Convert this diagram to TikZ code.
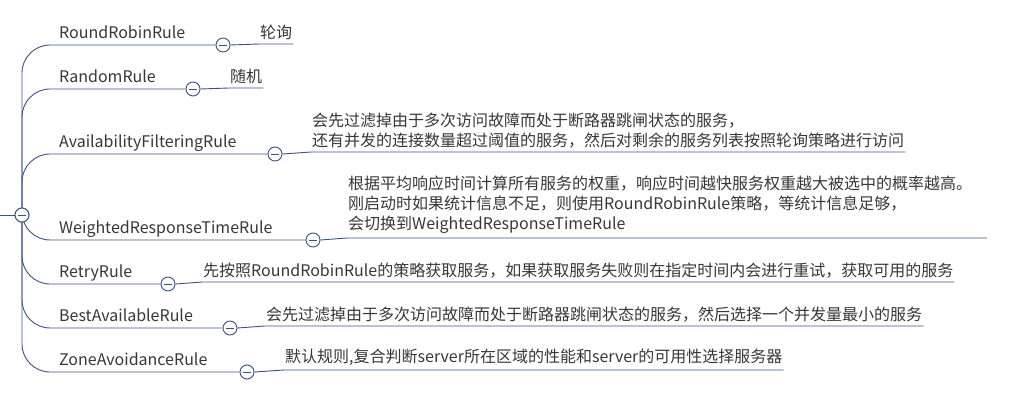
\documentclass[tikz,border=0pt]{standalone}
\usepackage{fontspec}
\setmainfont{Noto Sans CJK SC}
\usetikzlibrary{positioning}
\definecolor{branchblue}{RGB}{62,82,125}
\definecolor{labelgray}{RGB}{55,55,55}

\begin{document}
\begin{tikzpicture}[x=1pt,y=-1pt,
              every node/.style={text=labelgray, font=\fontsize{16}{20}\selectfont},
              fold/.style={circle, draw=branchblue, fill=white, minimum size=14pt, inner sep=0pt, line width=0.9pt,
                path picture={\draw[branchblue, line width=0.9pt]
                  ([xshift=-4pt]path picture bounding box.center) -- ([xshift=4pt]path picture bounding box.center);}},
              rule/.style={anchor=base west, inner sep=0pt},
              note/.style={anchor=south west, align=left, inner xsep=1pt, inner ysep=4pt},
              branch/.style={draw=branchblue, line width=0.9pt, rounded corners=28pt},
              twig/.style={draw=branchblue, line width=0.9pt}
            ]
              \useasboundingbox (0,0) rectangle (1029,406);

              % root
              \coordinate (lead) at (0,215);
              \node[fold] (root) at (22,215) {};

              % rules
              \node[rule] (rr) at (59,39) {RoundRobinRule};
              \node[fold] (rrf) at (223,45) {};
              \node[note] (rrn) at (259,44) {轮询};

              \node[rule] (rd) at (59,83) {RandomRule};
              \node[fold] (rdf) at (193,89) {};
              \node[note] (rdn) at (229,88) {随机};

              \node[rule] (af) at (59,148) {AvailabilityFilteringRule};
              \node[fold] (aff) at (275,154) {};
              \node[note] (afn) at (311,152) {会先过滤掉由于多次访问故障而处于断路器跳闸状态的服务，\\还有并发的连接数量超过阈值的服务，然后对剩余的服务列表按照轮询策略进行访问};

              \node[rule] (wr) at (59,234) {WeightedResponseTimeRule};
              \node[fold] (wrf) at (313,240) {};
              \node[note] (wrn) at (347,238) {根据平均响应时间计算所有服务的权重，响应时间越快服务权重越大被选中的概率越高。\\刚启动时如果统计信息不足，则使用RoundRobinRule策略，等统计信息足够，\\会切换到WeightedResponseTimeRule};
              \coordinate (wre) at (987,238);

              \node[rule] (rt) at (59,278) {RetryRule};
              \node[fold] (rtf) at (168,284) {};
              \node[note] (rtn) at (202,282) {先按照RoundRobinRule的策略获取服务，如果获取服务失败则在指定时间内会进行重试，获取可用的服务};

              \node[rule] (ba) at (59,322) {BestAvailableRule};
              \node[fold] (baf) at (230,328) {};
              \node[note] (ban) at (265,326) {会先过滤掉由于多次访问故障而处于断路器跳闸状态的服务，然后选择一个并发量最小的服务};

              \node[rule] (za) at (59,366) {ZoneAvoidanceRule};
              \node[fold] (zaf) at (247,372) {};
              \node[note] (zan) at (284,370) {默认规则,复合判断server所在区域的性能和server的可用性选择服务器};

              % connectors
              \draw[twig] (lead) -- (root);
              \foreach \f in {rrf,rdf,aff}
                \draw[branch] (root.north) |- (\f.west);
              \foreach \f in {wrf,rtf,baf,zaf}
                \draw[branch] (root.south) |- (\f.west);
              \foreach \f/\n in {rrf/rrn,rdf/rdn,aff/afn,rtf/rtn,baf/ban,zaf/zan}
                \draw[twig] (\f.east) -- (\n.south west) -- (\n.south east);
              \draw[twig] (wrf.east) -- (wrn.south west) -- (wre);
              \node[fold] at (root) {};
            \end{tikzpicture}
\end{document}
